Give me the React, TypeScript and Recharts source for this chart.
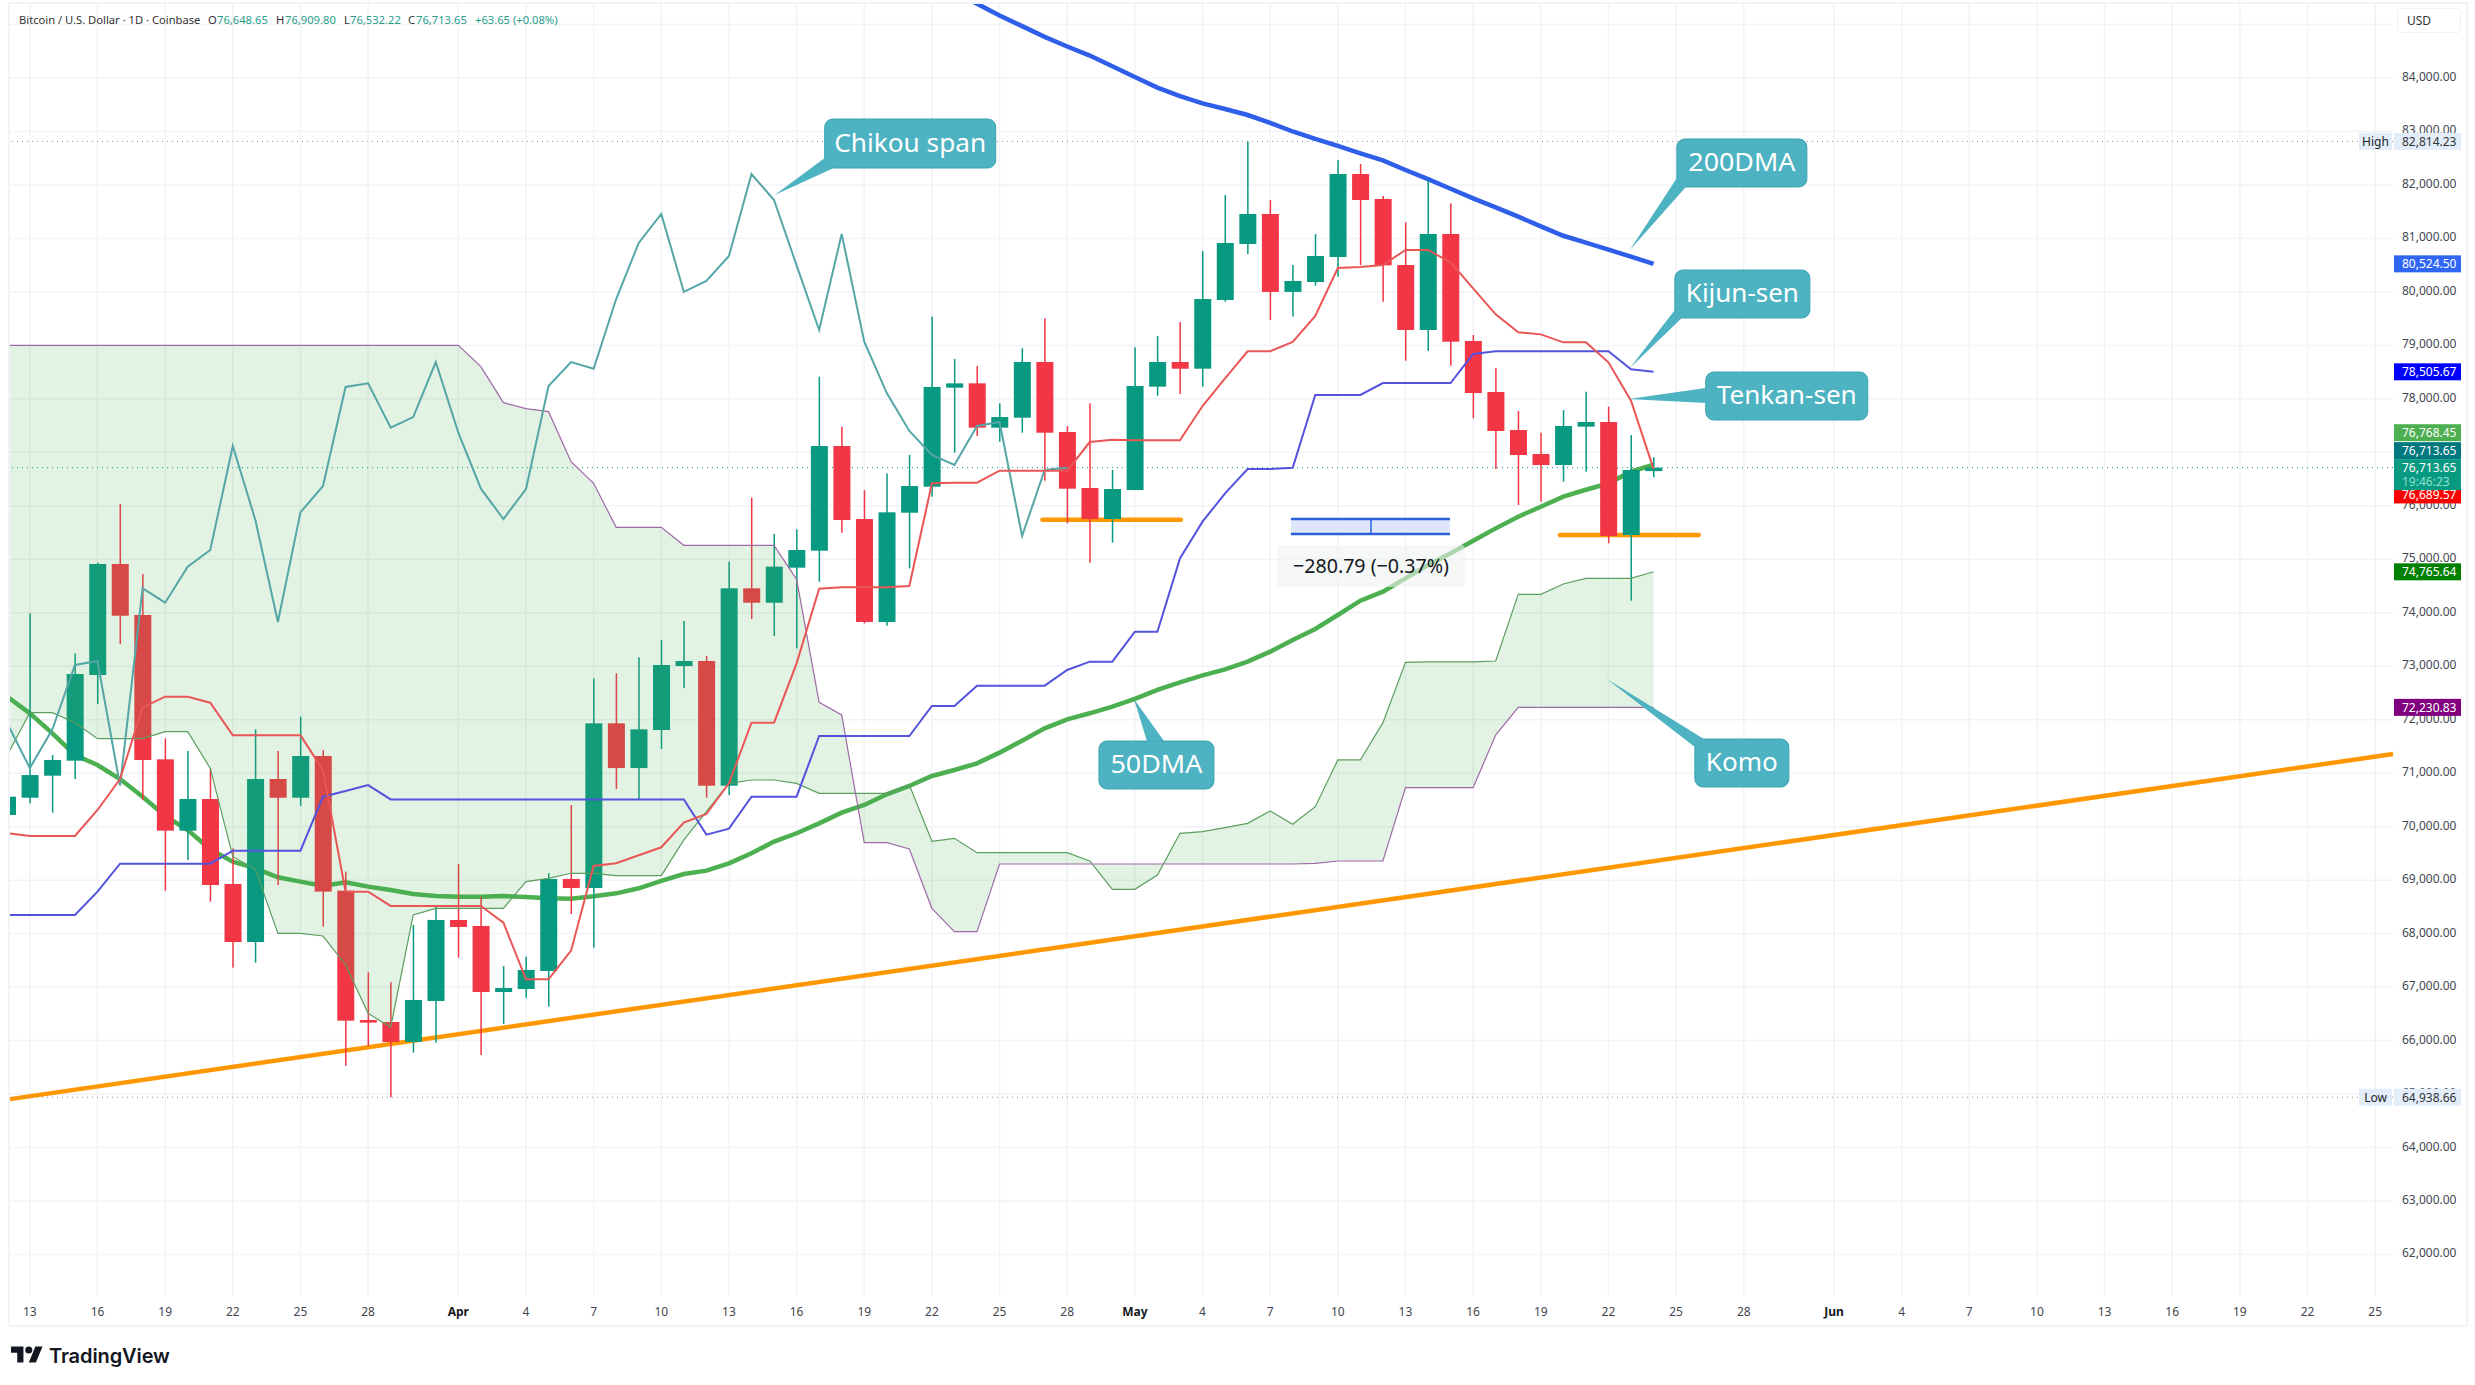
import React from 'react';
import { ComposedChart, XAxis, YAxis, CartesianGrid, Bar, Line, Area, ReferenceLine, ReferenceDot, ReferenceArea } from 'recharts';

const UI_FONT = '"Noto Sans", sans-serif';

const firstDay = -20; // Mar 12, counted in days from Apr 1
const opens = [70219,70541,70953,71234,72836,74912,73958,71259,69925,70517,68928,67843,70891,70541,71321,68803,66385,66347,65973,66740,68255,68143,66908,66964,67301,69022,68853,71932,71096,71807,73004,73098,70766,74457,74188,74843,75161,77118,75753,73827,75871,76358,78209,78290,77461,77648,78689,77380,76333,75753,76295,78228,78689,78564,79849,80896,81457,80000,80185,80653,82205,81738,80503,79288,81083,79082,78128,77417,76968,76763,77480,77567,75454,76648.65];
const highs = [70650,73989,71340,73241,74937,76034,74725,71651,71414,71090,69595,71820,71414,72056,71433,69159,67276,67089,68161,68535,69302,68691,67394,67569,69128,70405,72773,72867,73166,73490,73846,73191,74955,76152,75473,75560,78415,77480,76295,76607,76950,79537,78745,78614,77916,78945,79506,77492,77916,76669,78963,79175,79437,80765,81812,82814,81719,80503,81083,82467,82392,81794,81301,82093,81657,79194,78577,77773,77367,77791,78134,77854,77324,76909.8];
const lows = [70150,70435,70261,70891,72293,73415,70500,68803,69377,68598,67363,67457,68909,70386,68130,65530,65898,64939,65774,65961,67550,65730,66310,66802,66634,68367,67737,70704,70498,71452,72592,70541,70591,73883,73565,73334,74581,75497,73801,73758,74830,76170,76994,77305,77199,77367,76470,75672,74936,75310,76295,78060,78091,78228,79817,80709,79475,79537,80117,80285,80503,79817,78714,78895,78620,77636,76688,76015,76077,76451,76638,75298,74225,76532.22];
const closes = [70560,70965,71246,72854,74912,73945,71246,69925,70517,68909,67843,70891,70541,71321,68785,66372,66335,65973,66759,68255,68124,66908,66983,67320,69022,68853,71932,71096,71820,73023,73098,70766,74457,74188,74862,75173,77118,75734,73827,75878,76370,78222,78290,77461,77660,78689,77367,76320,75753,76314,78240,78689,78564,79867,80915,81457,80000,80204,80672,82205,81719,80497,79288,81083,79069,78109,77399,76950,76763,77492,77567,75435,76669,76713.65];

const tenkan = [69876,69826,69826,69826,70312,70891,72231,72430,72430,72318,71707,71707,71707,71707,71059,68785,68785,68517,68517,68517,68517,68517,68205,67145,67145,67681,69265,69315,69464,69614,70075,70237,70810,71944,71944,73054,74450,74475,74475,74475,74500,76420,76432,76432,76657,76657,76657,76657,77193,77237,77224,77224,77224,77866,78384,78889,78889,79063,79549,80447,80466,80503,80784,80784,80553,80067,79580,79244,79206,79057,79057,78683,77966,76690];
const kijun = [68348,68348,68348,68348,68785,69308,69308,69308,69308,69308,69551,69551,69551,69551,70560,70666,70778,70510,70510,70510,70510,70510,70510,70510,70510,70510,70510,70510,70510,70510,70510,69851,69963,70560,70560,70560,71695,71695,71695,71695,71695,72257,72257,72637,72637,72637,72637,72930,73086,73086,73646,73646,75017,75703,76233,76688,76688,76713,78072,78072,78072,78296,78296,78296,78296,78839,78889,78889,78889,78889,78889,78889,78552,78506];
const spanA = [71340,72131,72131,71944,71645,71645,71645,71776,71776,71090,69439,69202,68005,68005,67955,67413,66509,66247,68348,68473,68473,68473,68473,68972,69034,69128,69128,69084,69084,69084,69751,70281,70810,70872,70872,70810,70623,70623,70623,70623,70779,69726,69782,69514,69514,69514,69514,69514,69358,68828,68828,69096,69875,69906,69981,70062,70293,70044,70374,71247,71247,71945,73073,73080,73080,73080,73098,74344,74344,74538,74644,74644,74644,74766];
const spanB = [79001,79001,79001,79001,79001,79001,79001,79001,79001,79001,79001,79001,79001,79001,79001,79001,79001,79001,79001,79001,79001,78602,77929,77817,77761,76826,76420,75597,75597,75597,75261,75261,75261,75261,75261,74625,72325,72088,69701,69701,69582,68473,68036,68036,69302,69302,69302,69302,69302,69302,69302,69302,69302,69302,69302,69302,69302,69302,69314,69358,69358,69358,70729,70729,70729,70729,71714,72231,72231,72231,72231,72231,72231,72231];
const chikou = [71932,71096,71820,73023,73098,70766,74457,74188,74862,75173,77118,75734,73827,75878,76370,78222,78290,77461,77660,78689,77367,76320,75753,76314,78240,78689,78564,79867,80915,81457,80000,80204,80672,82205,81719,80497,79288,81083,79069,78109,77399,76950,76763,77492,77567,75435,76669,76713.65];
const dma50 = [72430,72119,71745,71340,71153,70891,70560,70200,69938,69576,69346,69221,69053,68972,68891,68959,68878,68816,68741,68704,68691,68691,68704,68685,68660,68654,68697,68753,68847,68984,69115,69177,69315,69501,69720,69876,70062,70262,70405,70605,70761,70948,71060,71184,71384,71608,71839,72007,72120,72244,72388,72556,72699,72830,72942,73086,73273,73490,73696,73958,74226,74394,74643,74893,75111,75348,75578,75796,75983,76170,76300,76420,76638,76768];
const dma200Start = 22;
const dma200 = [85600,85390,85170,84970,84770,84590,84420,84220,84020,83820,83660,83526,83420,83308,83160,83000,82860,82730,82590,82460,82280,82110,81930,81750,81580,81407,81225,81050,80920,80790,80660,80524.5];

const dayTicks = [-19,-16,-13,-10,-7,-4,0,3,6,9,12,15,18,21,24,27,30,33,36,39,42,45,48,51,54,57,61,64,67,70,73,76,79,82,85];
const dayLabels = ['13','16','19','22','25','28','Apr','4','7','10','13','16','19','22','25','28','May','4','7','10','13','16','19','22','25','28','Jun','4','7','10','13','16','19','22','25'];
const priceTicks = [62000,63000,64000,65000,66000,67000,68000,69000,70000,71000,72000,73000,74000,75000,76000,77000,78000,79000,80000,81000,82000,83000,84000,85000];
const unlabelledPrices = [77000,85000];

const dayMin = -19.88, dayMax = 85.79, priceMin = 61223, priceMax = 85384;
const trendLine = [{ x: dayMin, y: 64905 }, { x: dayMax, y: 71357 }];
const supportA = [{ x: 25.9, y: 75740 }, { x: 32.04, y: 75740 }];
const supportB = [{ x: 48.85, y: 75453 }, { x: 55, y: 75453 }];
const highPrice = 82814.23, lowPrice = 64938.66, lastPrice = 76713.65;
const measure = { x1: 36.92, x2: 43.97, xm: 40.47, y1: 75472, y2: 75752, labelY: 74874 };

const rows = opens.map((open, i) => {
  const day = firstDay + i;
  return {
    day, open, high: highs[i], low: lows[i], close: closes[i],
    range: [lows[i], highs[i]],
    tenkan: tenkan[i], kijun: kijun[i], spanA: spanA[i], spanB: spanB[i],
    cloud: [spanB[i], spanA[i]],
    chikou: i < chikou.length ? chikou[i] : null,
    dma50: dma50[i],
    dma200: day >= dma200Start ? dma200[day - dma200Start] : null,
  };
});

const fmt = (v: number) => v.toLocaleString('en-US', { minimumFractionDigits: 2, maximumFractionDigits: 2 });

const UP = '#089981', DOWN = '#f23645';
const Candle = (p: any) => {
  const { x, y, width, height, payload } = p;
  if (!payload) return null;
  const top = Math.min(y, y + height), h = Math.abs(height);
  const k = h / (payload.high - payload.low);
  const cx = x + width / 2;
  const yO = top + (payload.high - payload.open) * k;
  const yC = top + (payload.high - payload.close) * k;
  const color = payload.close >= payload.open ? UP : DOWN;
  return (
    <g>
      <rect x={cx - 0.75} y={top} width={1.5} height={h} fill={color} />
      <rect x={x} y={Math.min(yO, yC)} width={width} height={Math.max(Math.abs(yC - yO), 1)} fill={color} />
    </g>
  );
};

const callouts = [
  { label: 'Chikou span', day: 14.03, price: 81812, box: [50, -76, 171, 49], base: [[50, -37], [59, -27]], tw: 152 },
  { label: '200DMA', day: 51.95, price: 80784, box: [47, -111, 130, 48], base: [[47, -72], [56, -63]], tw: 107 },
  { label: 'Kijun-sen', day: 51.95, price: 78577, box: [45, -98, 135, 48], base: [[45, -58], [52, -50]], tw: 113 },
  { label: 'Tenkan-sen', day: 51.9, price: 77997, box: [77, -27, 162, 48], base: [[77, -11], [77, 4]], tw: 140 },
  { label: 'Komo', day: 50.93, price: 72761, box: [88, 60, 94, 48], base: [[97, 60], [88, 68]], tw: 72 },
  { label: '50DMA', day: 29.96, price: 72387, box: [-35, 42, 115, 48], base: [[13, 42], [30, 42]], tw: 92 },
];

const Callout = ({ cx, cy, c }: any) => {
  const [dx, dy, w, h] = c.box;
  return (
    <g>
      <rect x={cx + dx} y={cy + dy} width={w} height={h} rx={8} fill="#4db2c1" stroke="#3aa4b3" strokeWidth={1} />
      <polygon
        points={`${cx},${cy} ${cx + c.base[0][0]},${cy + c.base[0][1]} ${cx + c.base[1][0]},${cy + c.base[1][1]}`}
        fill="#4db2c1"
      />
      <text
        x={cx + dx + w / 2} y={cy + dy + h / 2 + 8} textAnchor="middle" fill="#ffffff"
        fontFamily={UI_FONT} fontSize={26} textLength={c.tw} lengthAdjust="spacingAndGlyphs"
      >
        {c.label}
      </text>
    </g>
  );
};

const priceTags = [
  { v: 80524.5, bg: '#2f66f6', dy: 0 },
  { v: 78505.67, bg: '#0000ff', dy: 0 },
  { v: 76768.45, bg: '#4caf50', dy: -32 },
  { v: 76713.65, bg: '#00787f', dy: -17 },
  { v: 76689.57, bg: '#ff0000', dy: 26 },
  { v: 74765.64, bg: '#008000', dy: 0 },
  { v: 72230.83, bg: '#800080', dy: 0 },
];

const PriceTag = ({ cx, cy, tag }: any) => (
  <g>
    <rect x={cx + 1} y={cy + tag.dy - 8.5} width={67} height={17} fill={tag.bg} />
    <text x={cx + 9} y={cy + tag.dy + 4.5} fill="#ffffff" fontFamily={UI_FONT} fontSize={12}>{fmt(tag.v)}</text>
  </g>
);

const LastTag = ({ cx, cy }: any) => (
  <g>
    <rect x={cx + 1} y={cy - 8.5} width={67} height={31} fill="#089981" />
    <text x={cx + 9} y={cy + 4.5} fill="#ffffff" fontFamily={UI_FONT} fontSize={12}>{fmt(lastPrice)}</text>
    <text x={cx + 9} y={cy + 18} fill="#8fe0cf" fontFamily={UI_FONT} fontSize={12}>19:46:23</text>
  </g>
);

const ExtremeTag = ({ cx, cy, name, v }: any) => (
  <g>
    <rect x={cx - 34} y={cy - 8.5} width={33} height={17} fill="#e3edfa" />
    <text x={cx - 17.5} y={cy + 4.5} textAnchor="middle" fill="#222" fontFamily={UI_FONT} fontSize={12}>{name}</text>
    <rect x={cx + 1} y={cy - 8.5} width={67} height={17} fill="#e3edfa" />
    <text x={cx + 9} y={cy + 4.5} fill="#333" fontFamily={UI_FONT} fontSize={12}>{fmt(v)}</text>
  </g>
);

const MeasureLabel = ({ cx, cy }: any) => (
  <g>
    <rect x={cx - 94} y={cy - 21} width={188} height={42} rx={4} fill="#f0f1f2" fillOpacity={0.6} />
    <text x={cx} y={cy + 7} textAnchor="middle" fill="#131722" fontFamily={UI_FONT} fontSize={20} textLength={156} lengthAdjust="spacingAndGlyphs">
      −280.79 (−0.37%)
    </text>
  </g>
);

const XTick = ({ x, y, payload }: any) => {
  const idx = dayTicks.indexOf(payload.value);
  const label = dayLabels[idx];
  const isMonth = /[A-Za-z]/.test(label);
  return (
    <text x={x} y={1316} textAnchor="middle" fontFamily={UI_FONT} fontSize={12} fontWeight={isMonth ? 700 : 400} fill={isMonth ? '#131722' : '#434651'}>
      {label}
    </text>
  );
};

const YTick = ({ x, y, payload }: any) =>
  unlabelledPrices.includes(payload.value) ? <g /> : (
    <text x={2402} y={y + 3} fontFamily={UI_FONT} fontSize={12} fill="#434651">{fmt(payload.value)}</text>
  );

const headerValues = [
  { t: 'O', x: 208 }, { t: '76,648.65', x: 217, g: true },
  { t: 'H', x: 276 }, { t: '76,909.80', x: 285, g: true },
  { t: 'L', x: 344 }, { t: '76,532.22', x: 350, g: true },
  { t: 'C', x: 408 }, { t: '76,713.65', x: 416, g: true },
  { t: '+63.65 (+0.08%)', x: 475, g: true },
];

export default function App() {
  return (
    <div style={{ position: 'absolute', left: 0, top: 0, width: 2475, height: 1385, background: '#fff', overflow: 'hidden' }}>
      <div style={{ position: 'absolute', left: 8, top: 2, width: 2456, height: 1321, border: '2px solid #f1f3f7', boxSizing: 'content-box' }} />
      <div style={{ position: 'absolute', left: 0, top: 0 }}>
        <ComposedChart width={2475} height={1385} data={rows} margin={{ top: 4, right: 10, bottom: 59, left: 10 }}>
          <CartesianGrid stroke="#f1f3f7" strokeWidth={1.5} verticalValues={dayTicks} horizontalValues={priceTicks} />
          <XAxis dataKey="day" type="number" domain={[dayMin, dayMax]} allowDataOverflow ticks={dayTicks} interval={0} height={30} tickLine={false} axisLine={false} tick={<XTick />} />
          <YAxis orientation="right" type="number" domain={[priceMin, priceMax]} allowDataOverflow ticks={priceTicks} interval={0} width={72} tickLine={false} axisLine={false} tick={<YTick />} />

          <ReferenceLine segment={trendLine} stroke="#ff9800" strokeWidth={4.5} ifOverflow="visible" zIndex={10} />
          <ReferenceLine segment={supportA} stroke="#ff9800" strokeWidth={4.5} strokeLinecap="round" ifOverflow="visible" zIndex={10} />
          <ReferenceLine segment={supportB} stroke="#ff9800" strokeWidth={4.5} strokeLinecap="round" ifOverflow="visible" zIndex={10} />
          <ReferenceLine y={highPrice} stroke="#8a8f9a" strokeWidth={1} strokeDasharray="1 4" zIndex={10} />
          <ReferenceLine y={lowPrice} stroke="#8a8f9a" strokeWidth={1} strokeDasharray="1 4" zIndex={10} />
          <ReferenceLine y={lastPrice} stroke="#089981" strokeWidth={1} strokeDasharray="1 4" zIndex={10} />

          <Line dataKey="dma50" stroke="#4caf50" strokeWidth={4.5} dot={false} activeDot={false} isAnimationActive={false} zIndex={20} />
          <Line dataKey="dma200" stroke="#2f5fe8" strokeWidth={4.5} dot={false} activeDot={false} isAnimationActive={false} zIndex={20} />

          <ReferenceArea x1={measure.x1} x2={measure.x2} y1={measure.y1} y2={measure.y2} fill="#dfe6fb" fillOpacity={1} ifOverflow="visible" zIndex={25} />
          <ReferenceLine segment={[{ x: measure.x1, y: measure.y1 }, { x: measure.x2, y: measure.y1 }]} stroke="#2962d8" strokeWidth={2.5} ifOverflow="visible" zIndex={26} />
          <ReferenceLine segment={[{ x: measure.x1, y: measure.y2 }, { x: measure.x2, y: measure.y2 }]} stroke="#2962d8" strokeWidth={2.5} ifOverflow="visible" zIndex={26} />
          <ReferenceLine segment={[{ x: measure.xm, y: measure.y1 }, { x: measure.xm, y: measure.y2 }]} stroke="#2962d8" strokeWidth={1.5} ifOverflow="visible" zIndex={26} />

          <Bar dataKey="range" barSize={17} shape={<Candle />} isAnimationActive={false} zIndex={30} />

          <Area dataKey="cloud" stroke="none" fill="#4caf50" fillOpacity={0.16} dot={false} activeDot={false} isAnimationActive={false} zIndex={40} />
          <Line dataKey="spanA" stroke="#5c9e60" strokeWidth={1.2} dot={false} activeDot={false} isAnimationActive={false} zIndex={50} />
          <Line dataKey="spanB" stroke="#a06aa8" strokeWidth={1.2} dot={false} activeDot={false} isAnimationActive={false} zIndex={50} />
          <Line dataKey="chikou" stroke="#55a6a6" strokeWidth={2} dot={false} activeDot={false} isAnimationActive={false} zIndex={50} />
          <Line dataKey="kijun" stroke="#5353dd" strokeWidth={2} dot={false} activeDot={false} isAnimationActive={false} zIndex={50} />
          <Line dataKey="tenkan" stroke="#ea5555" strokeWidth={2} dot={false} activeDot={false} isAnimationActive={false} zIndex={50} />

          <ReferenceDot x={measure.xm} y={measure.labelY} r={0} ifOverflow="visible" shape={(p: any) => <MeasureLabel {...p} />} zIndex={60} />

          {callouts.map((c) => (
            <ReferenceDot key={c.label} x={c.day} y={c.price} r={0} ifOverflow="visible" shape={(p: any) => <Callout {...p} c={c} />} zIndex={60} />
          ))}
          {priceTags.map((t) => (
            <ReferenceDot key={t.v} x={dayMax} y={t.v} r={0} ifOverflow="visible" shape={(p: any) => <PriceTag {...p} tag={t} />} zIndex={3000} />
          ))}
          <ReferenceDot x={dayMax} y={lastPrice} r={0} ifOverflow="visible" shape={(p: any) => <LastTag {...p} />} zIndex={3000} />
          <ReferenceDot x={dayMax} y={highPrice} r={0} ifOverflow="visible" shape={(p: any) => <ExtremeTag {...p} name="High" v={highPrice} />} zIndex={3000} />
          <ReferenceDot x={dayMax} y={lowPrice} r={0} ifOverflow="visible" shape={(p: any) => <ExtremeTag {...p} name="Low" v={lowPrice} />} zIndex={3000} />
        </ComposedChart>
      </div>

      <div style={{ position: 'absolute', left: 19, top: 12, fontFamily: UI_FONT, fontSize: 11.2, lineHeight: '16px', color: '#333', whiteSpace: 'nowrap' }}>
        Bitcoin / U.S. Dollar · 1D · Coinbase
      </div>
      {headerValues.map((h) => (
        <div key={h.t + h.x} style={{ position: 'absolute', left: h.x, top: 12, fontFamily: UI_FONT, fontSize: 11.2, lineHeight: '16px', color: h.g ? '#2a9d8a' : '#333', whiteSpace: 'nowrap' }}>
          {h.t}
        </div>
      ))}

      <div style={{ position: 'absolute', left: 2397, top: 8, width: 64, height: 25, boxSizing: 'border-box', background: '#fff', border: '1px solid #eef0f4', borderRadius: 4, fontFamily: UI_FONT, fontSize: 12, lineHeight: '23px', paddingLeft: 9, color: '#333' }}>
        USD
      </div>

      <svg style={{ position: 'absolute', left: 11, top: 1346 }} width={32} height={17} viewBox="0 4 36 18">
        <path d="M14 22H7V11H0V4h14v18zM28 22h-8l7.5-18h8L28 22z" fill="#131722" />
        <circle cx={20} cy={8} r={4} fill="#131722" />
      </svg>
      <div style={{ position: 'absolute', left: 49, top: 1343, fontFamily: 'Inter, sans-serif', fontWeight: 600, fontSize: 20, lineHeight: '26px', color: '#131722', letterSpacing: -0.1 }}>
        TradingView
      </div>
    </div>
  );
}
